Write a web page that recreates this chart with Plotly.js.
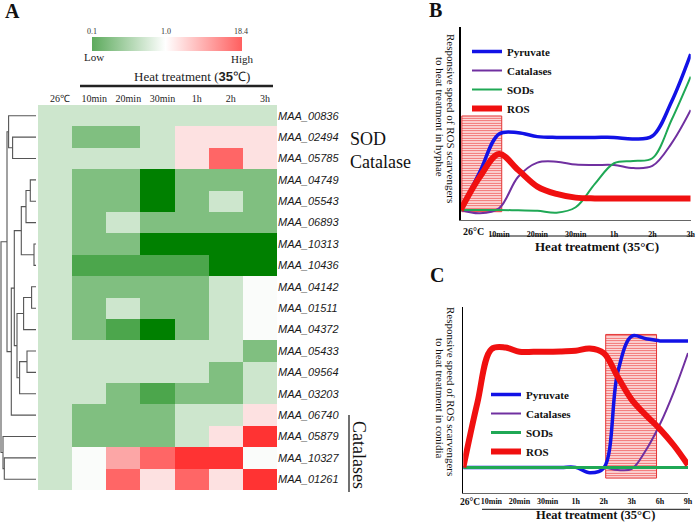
<!DOCTYPE html>
<html>
<head>
<meta charset="utf-8">
<script src="https://cdn.plot.ly/plotly-3.0.1.min.js"></script>
<style>body{margin:0;background:#fff}</style>
</head>
<body>
<div id="fig" style="width:696px;height:522px"></div>
<script>
var W = 696, H = 522;
function px(v) { return v / W; }
function py(v) { return 1 - v / H; }

// ---- panel A: heatmap ----
var timePoints = ['26℃', '10min', '20min', '30min', '1h', '2h', '3h'];
var genes = ['MAA_00836', 'MAA_02494', 'MAA_05785', 'MAA_04749', 'MAA_05543', 'MAA_06893',
  'MAA_10313', 'MAA_10436', 'MAA_04142', 'MAA_01511', 'MAA_04372', 'MAA_05433',
  'MAA_09564', 'MAA_03203', 'MAA_06740', 'MAA_05879', 'MAA_10327', 'MAA_01261'];
// expression level, -4 (strong down) .. 4 (strong up)
var expression = [
  [-1, -1, -1, -1, -1, -1, -1],
  [-1, -2, -2, -1, 1, 1, 1],
  [-1, -1, -1, -1, 1, 3, 1],
  [-1, -2, -2, -4, -2, -2, -2],
  [-1, -2, -2, -4, -2, -1, -2],
  [-1, -2, -1, -2, -2, -2, -2],
  [-1, -2, -2, -4, -4, -4, -4],
  [-1, -3, -3, -3, -3, -4, -4],
  [-1, -2, -2, -2, -2, -1, 0],
  [-1, -2, -1, -2, -2, -1, 0],
  [-1, -2, -3, -4, -2, -1, 0],
  [-1, -1, -1, -1, -1, -1, -2],
  [-1, -1, -1, -1, -1, -2, -1],
  [-1, -1, -2, -3, -2, -2, -1],
  [-1, -2, -2, -2, -1, -1, 1],
  [-1, -2, -2, -2, -1, 1, 4],
  [-1, 0, 2, 3, 4, 4, 0],
  [-1, 0, 3, 1, 3, 1, 4]
];
var levelColors = ['#008000', '#4ca64c', '#80bf80', '#cde6cd', '#fafcfa',
  '#fde1e1', '#fca6a6', '#ff6666', '#ff3333'];
var legendScaleTicks = ['0.1', '1.0', '18.4'];

// dendrogram merges: [child a, child b, height]; leaves 0..17, merges numbered from 18
var dendroMerges = [
  [1, 2, 23.4], [0, 18, 27.4], [3, 4, 5.7], [20, 5, 10], [6, 7, 2],
  [21, 22, 14.7], [8, 9, 4.4], [24, 10, 12.4], [11, 12, 9], [26, 13, 16.4],
  [25, 27, 19], [23, 28, 21.7], [29, 14, 24.7], [19, 30, 29], [16, 17, 31.7],
  [15, 32, 33], [31, 33, 35]
];

// ---- panels B, C ----
var hyphaeTime = [0, 0.5, 1, 1.5, 2, 2.5, 3, 3.5, 4, 4.5, 5, 5.5, 6];
var hyphaeLabels = ['10min', '20min', '30min', '1h', '2h', '3h'];
var pyruvateHyphae = [5.2, 25.0, 44.6, 45.2, 43.2, 42.8, 42.8, 42.8, 42.8, 42.0, 43.5, 61.3, 86];
var catalaseHyphae = [5.2, 3.5, 6.0, 22.4, 29.7, 30.2, 28.7, 28.5, 28.5, 26.9, 28.0, 39.7, 57];
var sodHyphae = [5.2, 5.2, 5.2, 5.0, 4.8, 3.8, 6.6, 18.7, 29.4, 30.6, 32.0, 51.8, 74.3];
var rosHyphae = [5.2, 22.4, 34.2, 25.9, 17.3, 13.5, 11.6, 11.2, 11.2, 11.2, 11.2, 11.2, 11.2];
var hyphaeWindow = [0.03, 1.07, 4.3, 53.9]; // start, end, low, high

var conidiaTime = [0, 0.5, 1, 1.5, 2, 2.5, 3, 3.5, 4, 4.5, 5, 5.5, 6, 6.5, 7, 7.5, 8];
var conidiaLabels = ['10min', '20min', '30min', '1h', '2h', '3h', '6h', '9h'];
var pyruvateConidia = [12.9, 12.9, 12.9, 12.9, 12.9, 12.9, 12.9, 12.9, 12.9, 10.0, 12.5, 64.7, 84.2, 82.8, 81.6, 81.6, 81.6];
var catalaseConidia = [12.9, 12.9, 12.9, 12.9, 12.9, 12.9, 12.9, 12.9, 12.9, 12.9, 12.9, 11.5, 12.1, 22.2, 36.3, 54.1, 75];
var sodConidia = [12.9, 12.9, 12.9, 12.9, 12.9, 12.9, 12.9, 12.9, 12.9, 12.9, 12.9, 12.9, 12.9, 12.9, 12.9, 12.9, 12.9];
var rosConidia = [12.9, 47.9, 77.1, 78.0, 75.7, 75.7, 75.7, 75.9, 76.2, 77.5, 75.0, 62.0, 49.6, 41.3, 33.7, 24.8, 14.2];
var conidiaWindow = [5.07, 6.88, 7.1, 85.1];

var seriesNames = ['Pyruvate', 'Catalases', 'SODs', 'ROS'];
var seriesColors = ['#1212e6', '#7030a0', '#1fa855', '#f01010'];

var serif = 'Liberation Serif, Times New Roman, serif';

// heatmap colorscale from discrete levels
var heatScale = levelColors.map(function (c, i) { return [i / (levelColors.length - 1), c]; });

// dendrogram line coordinates
var dPos = genes.map(function (g, i) { return i; });
var dHeight = genes.map(function () { return 0; });
var dx = [], dy = [];
dendroMerges.forEach(function (m) {
  var a = m[0], b = m[1], h = m[2];
  dx.push(dHeight[a], h, h, dHeight[b], null);
  dy.push(dPos[a], dPos[a], dPos[b], dPos[b], null);
  dPos.push((dPos[a] + dPos[b]) / 2);
  dHeight.push(h);
});

var data = [];
data.push({
  type: 'heatmap', z: expression,
  x: timePoints.map(function (t, i) { return i; }),
  y: genes.map(function (g, i) { return i; }),
  zmin: -4, zmax: 4, colorscale: heatScale, showscale: false,
  xaxis: 'x', yaxis: 'y', hoverinfo: 'skip'
});
data.push({
  type: 'scatter', mode: 'lines', x: dx, y: dy, xaxis: 'x2', yaxis: 'y',
  line: {color: '#555', width: 1.1}, showlegend: false, hoverinfo: 'skip'
});
// colour key
data.push({
  type: 'scatter', mode: 'markers', x: [null], y: [null], xaxis: 'x', yaxis: 'y',
  showlegend: false, hoverinfo: 'skip',
  marker: {
    color: [0], cmin: 0, cmax: 1, showscale: true,
    colorscale: [[0, 'rgb(92,170,92)'], [0.49, 'rgb(255,255,255)'], [1, 'rgb(255,95,95)']],
    colorbar: {
      orientation: 'h', x: px(167), xanchor: 'center', y: py(36.5), yanchor: 'top',
      len: 150, lenmode: 'pixels', thickness: 14, thicknessmode: 'pixels',
      outlinewidth: 0, showticklabels: false, ticks: '', xpad: 0, ypad: 0
    }
  }
});

function windowBar(w, xa, ya) {
  return {
    type: 'bar', x: [(w[0] + w[1]) / 2], width: [w[1] - w[0]], base: [w[2]], y: [w[3] - w[2]],
    xaxis: xa, yaxis: ya, showlegend: false, hoverinfo: 'skip',
    marker: {
      color: '#fde6e6', line: {color: '#e53535', width: 1},
      pattern: {shape: '-', fgcolor: '#f05a5a', bgcolor: '#fde6e6', size: 2.5, solidity: 0.4}
    }
  };
}
data.push(windowBar(hyphaeWindow, 'x3', 'y3'));
data.push(windowBar(conidiaWindow, 'x4', 'y4'));

var hyphaeSeries = [pyruvateHyphae, catalaseHyphae, sodHyphae, rosHyphae];
var conidiaSeries = [pyruvateConidia, catalaseConidia, sodConidia, rosConidia];
var hyphaeWidths = [3.5, 2, 2, 6];
var conidiaWidths = [3.5, 2, 3, 6];
hyphaeSeries.forEach(function (s, i) {
  data.push({
    type: 'scatter', mode: 'lines', x: hyphaeTime, y: s, name: seriesNames[i],
    xaxis: 'x3', yaxis: 'y3', legend: 'legend',
    line: {color: seriesColors[i], width: hyphaeWidths[i], shape: 'spline', smoothing: 1}
  });
});
conidiaSeries.forEach(function (s, i) {
  data.push({
    type: 'scatter', mode: 'lines', x: conidiaTime, y: s, name: seriesNames[i],
    xaxis: 'x4', yaxis: 'y4', legend: 'legend2',
    line: {color: seriesColors[i], width: conidiaWidths[i], shape: 'spline', smoothing: 1}
  });
});

var tickFontB = {family: serif, size: 8, color: '#111', weight: 'bold'};

var layout = {
  width: W, height: H,
  margin: {l: 0, r: 0, t: 0, b: 0},
  paper_bgcolor: '#fff', plot_bgcolor: 'rgba(0,0,0,0)',
  bargap: 0,
  xaxis: {
    type: 'linear', domain: [px(38), px(277)], range: [-0.5, 6.5], side: 'top', anchor: 'y',
    tickvals: timePoints.map(function (t, i) { return i; }), ticktext: timePoints,
    tickfont: {family: serif, size: 10, color: '#222'}, ticks: '', ticklabelshift: 5,
    showgrid: false, zeroline: false, showline: false, fixedrange: true
  },
  yaxis: {
    type: 'linear', domain: [py(490), py(105)], range: [17.5, -0.5], side: 'right', anchor: 'x',
    tickvals: genes.map(function (g, i) { return i; }),
    ticktext: genes.map(function (g) { return '<i>' + g + '</i>'; }),
    tickfont: {family: 'Liberation Sans, Arial, sans-serif', size: 11, color: '#1a1a1a'},
    ticks: '', showgrid: false, zeroline: false, showline: false
  },
  xaxis2: {
    type: 'linear', domain: [0, px(36)], range: [36, 0], anchor: 'y', visible: false
  },
  xaxis3: {
    type: 'linear', domain: [px(460.7), px(690.7)], range: [0, 6], anchor: 'y3',
    tickvals: [1, 2, 3, 4, 5, 6], ticktext: hyphaeLabels, tickfont: tickFontB,
    ticks: '', ticklabelstandoff: 6, showgrid: false, zeroline: false,
    showline: true, linecolor: '#666', linewidth: 1
  },
  yaxis3: {
    type: 'linear', domain: [py(220), py(27)], range: [0, 100], anchor: 'x3',
    showticklabels: false, ticks: '', showgrid: false, zeroline: false,
    showline: true, linecolor: '#000', linewidth: 1.5
  },
  xaxis4: {
    type: 'linear', domain: [px(463.3), px(688)], range: [0, 8], anchor: 'y4',
    tickvals: [1, 2, 3, 4, 5, 6, 7, 8], ticktext: conidiaLabels, tickfont: tickFontB,
    ticks: '', ticklabelstandoff: 0, showgrid: false, zeroline: false,
    showline: true, linecolor: '#666', linewidth: 1
  },
  yaxis4: {
    type: 'linear', domain: [py(493), py(307)], range: [-1, 100], anchor: 'x4',
    showticklabels: false, ticks: '', showgrid: false, zeroline: false,
    showline: true, linecolor: '#000', linewidth: 1.5
  },
  legend: {
    x: px(467), y: py(37), xanchor: 'left', yanchor: 'top', bgcolor: 'rgba(0,0,0,0)',
    font: {family: serif, size: 11, color: '#111', weight: 'bold'}, itemwidth: 30
  },
  legend2: {
    x: px(486), y: py(380), xanchor: 'left', yanchor: 'top', bgcolor: 'rgba(0,0,0,0)',
    font: {family: serif, size: 11, color: '#111', weight: 'bold'}, itemwidth: 30
  },
  shapes: [
    {type: 'line', xref: 'paper', yref: 'paper', x0: px(80), x1: px(273), y0: py(86), y1: py(86), line: {color: '#222', width: 2.5}},
    {type: 'line', xref: 'paper', yref: 'paper', x0: px(349), x1: px(349), y0: py(415), y1: py(492), line: {color: '#111', width: 1.2}},
    {type: 'line', xref: 'paper', yref: 'paper', x0: px(490), x1: px(693), y0: py(236), y1: py(236), line: {color: '#111', width: 1}},
    {type: 'line', xref: 'paper', yref: 'paper', x0: px(482), x1: px(690), y0: py(509.3), y1: py(509.3), line: {color: '#111', width: 1}}
  ],
  annotations: []
};

function note(text, x, y, opts) {
  var a = {
    text: text, xref: 'paper', yref: 'paper', x: px(x), y: py(y),
    xanchor: 'center', yanchor: 'middle', showarrow: false,
    font: {family: serif, size: 11, color: '#111'}
  };
  for (var k in opts) a[k] = opts[k];
  layout.annotations.push(a);
}

note('A', 12.5, 11, {font: {family: serif, size: 20, color: '#111', weight: 'bold'}});
note('B', 435, 10, {font: {family: serif, size: 20, color: '#111', weight: 'bold'}});
note('C', 437, 275, {font: {family: serif, size: 20, color: '#111', weight: 'bold'}});

note(legendScaleTicks[0], 92, 32, {font: {family: serif, size: 8, color: '#333'}});
note(legendScaleTicks[1], 166, 32, {font: {family: serif, size: 8, color: '#333'}});
note(legendScaleTicks[2], 241, 32, {font: {family: serif, size: 8, color: '#333'}});
note('Low', 94, 57, {font: {family: serif, size: 11, color: '#222'}});
note('High', 242, 59, {font: {family: serif, size: 11, color: '#222'}});
note('Heat treatment (<span style="font-family:Liberation Sans"><b>35</b></span>℃)', 192, 76.5,
  {font: {family: serif, size: 13, color: '#222'}});

note('SOD', 348, 139, {xanchor: 'left', font: {family: serif, size: 18, color: '#111'}});
note('Catalase', 348, 161.5, {xanchor: 'left', font: {family: serif, size: 18, color: '#111'}});
note('Catalases', 359, 455, {textangle: 90, font: {family: serif, size: 18, color: '#111'}});

note('Responsive speed of ROS scarvengers', 451, 118, {textangle: 90});
note('to heat treatment in hyphae', 440, 117, {textangle: 90});
note('Responsive speed of ROS scarvengers', 451, 391, {textangle: 90});
note('to heat treatment in conidia', 440, 398, {textangle: 90});

note('26°C', 461, 231.5, {xanchor: 'left', font: {family: serif, size: 10, color: '#111', weight: 'bold'}});
note('26°C', 458, 501.5, {xanchor: 'left', font: {family: serif, size: 9.5, color: '#111', weight: 'bold'}});
note('Heat treatment (35°C)', 596.5, 246, {font: {family: serif, size: 13, color: '#111', weight: 'bold'}});
note('Heat treatment (35°C)', 595, 515, {font: {family: serif, size: 12.5, color: '#111', weight: 'bold'}});

Plotly.newPlot('fig', data, layout, {staticPlot: true});
</script>
</body>
</html>
